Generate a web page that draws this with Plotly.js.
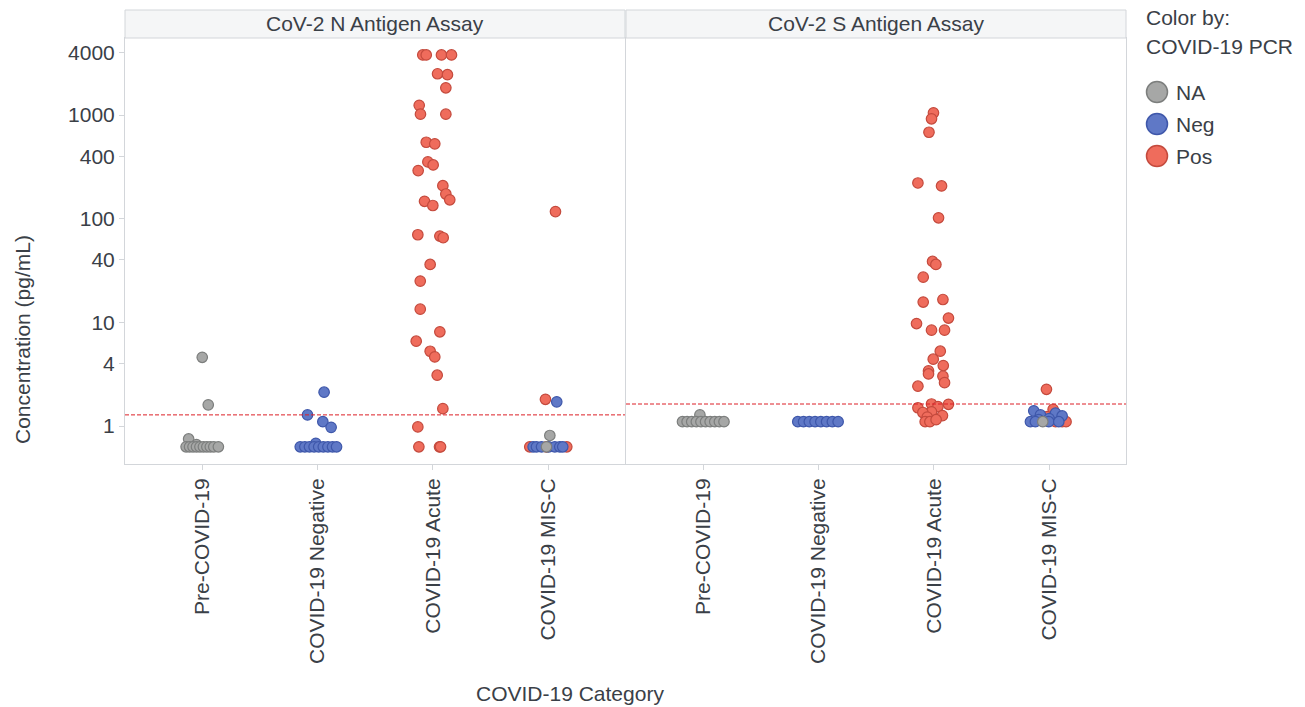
<!DOCTYPE html>
<html>
<head>
<meta charset="utf-8">
<script src="https://cdn.plot.ly/plotly-3.0.1.min.js"></script>
<style>html,body{margin:0;padding:0;background:#fff;}#chart{width:1305px;height:707px;}</style>
</head>
<body>
<div id="chart"></div>
<script>
// ---------- data ----------
const categories = ["Pre-COVID-19", "COVID-19 Negative", "COVID-19 Acute", "COVID-19 MIS-C"];
const assays = ["CoV-2 N Antigen Assay", "CoV-2 S Antigen Assay"];
const pcrGroups = ["NA", "Neg", "Pos"];
const thresholds = [1.28, 1.63];
const yTickVals = [1, 4, 10, 40, 100, 400, 1000, 4000];
const yTickText = ["1", "4", "10", "40", "100", "400", "1000", "4000"];

// N assay — NA
const nNA_cat = [0,0,0,0,0,0,0,0,0,0,0,0,0,0, 3,3];
const nNA_jit = [0.0,0.052,-0.118,-0.05,-0.14,-0.11,-0.08,-0.05,-0.02,0.01,0.04,0.07,0.10,0.14, 0.015,-0.014];
const nNA_val = [4.6,1.6,0.75,0.66,0.63,0.63,0.63,0.63,0.63,0.63,0.63,0.63,0.63,0.63, 0.81,0.63];
// N assay — Neg
const nNeg_cat = [1,1,1,1,1,1,1,1,1,1,1,1,1,1, 3,3,3,3,3,3,3,3];
const nNeg_jit = [0.057,-0.087,0.046,0.118,-0.015,-0.15,-0.11,-0.07,-0.03,0.01,0.05,0.09,0.13,0.165, 0.075,-0.13,-0.101,-0.057,0.006,0.058,0.101,0.127];
const nNeg_val = [2.12,1.28,1.10,0.97,0.68,0.63,0.63,0.63,0.63,0.63,0.63,0.63,0.63,0.63, 1.71,0.63,0.63,0.63,0.63,0.63,0.63,0.63];
// N assay — Pos
const nPos_cat = [2,2,2,2,2,2,2,2,2,2,2,2,2,2,2,2,2,2,2,2,2,2,2,2,2,2,2,2,2,2,2,2,2,2,2,2, 3,3,3,3,3];
const nPos_jit = [-0.087,-0.057,0.075,0.162,0.041,0.127,0.113,-0.118,-0.107,0.113,-0.057,0.017,-0.043,0.003,-0.127,0.087,0.113,0.147,-0.072,0.0,-0.130,0.061,0.090,-0.023,-0.109,-0.109,0.061,-0.144,-0.023,0.017,0.038,0.087,-0.130,-0.121,0.058,0.067, 0.064,-0.023,-0.159,-0.014,0.162];
const nPos_val = [3800,3800,3800,3800,2500,2450,1830,1240,1020,1020,546,527,353,330,291,208,173,152,147,134,70,68,65.5,36.2,25,13.4,8.1,6.58,5.26,4.64,3.09,1.47,0.98,0.63,0.63,0.63, 117,1.81,0.63,0.63,0.63];

// S assay — NA
const sNA_cat = [0,0,0,0,0,0,0,0,0,0,0, 3];
const sNA_jit = [-0.029,-0.18,-0.14,-0.10,-0.06,-0.02,0.02,0.06,0.10,0.14,0.18, -0.055];
const sNA_val = [1.28,1.10,1.10,1.10,1.10,1.10,1.10,1.10,1.10,1.10,1.10, 1.10];
// S assay — Neg
const sNeg_cat = [1,1,1,1,1,1,1,1, 3,3,3,3,3,3,3,3,3,3];
const sNeg_jit = [-0.18,-0.13,-0.08,-0.03,0.02,0.07,0.12,0.17, -0.133,0.056,0.113,-0.075,0.0,-0.09,-0.162,-0.119,-0.003,0.084];
const sNeg_val = [1.10,1.10,1.10,1.10,1.10,1.10,1.10,1.10, 1.40,1.33,1.25,1.28,1.18,1.15,1.10,1.10,1.10,1.10];
// S assay — Pos
const sPos_cat = [2,2,2,2,2,2,2,2,2,2,2,2,2,2,2,2,2,2,2,2,2,2,2,2,2,2,2,2,2,2,2,2,2,2, 3,3,3,3,3,3,3];
const sPos_jit = [-0.003,-0.020,-0.042,-0.138,0.067,0.041,-0.011,0.018,-0.092,0.079,-0.092,0.127,-0.150,-0.020,0.093,0.056,-0.005,0.082,-0.046,-0.046,0.079,0.093,-0.138,-0.020,0.127,0.036,-0.138,-0.020,-0.095,0.075,-0.057,-0.075,-0.034,0.020, -0.023,0.035,-0.017,0.09,0.056,0.113,0.147];
const sPos_val = [1050,919,682,221,207,102,38.7,36.2,27.3,16.6,15.7,11.0,9.73,8.41,8.41,5.27,4.41,3.83,3.40,3.18,3.02,2.62,2.42,1.63,1.62,1.54,1.50,1.37,1.35,1.26,1.22,1.10,1.10,1.15, 2.26,1.45,1.23,1.15,1.10,1.10,1.10];

// ---------- styles ----------
const FONT = "Liberation Sans, Arial, sans-serif";
const TXT = "#3a4047";
const FS = 21;
const colors = {
  NA:  {fill: "#a6a7a6", line: "#7c7e7d"},
  Neg: {fill: "#5f78c6", line: "#3e57aa"},
  Pos: {fill: "#ef6c5c", line: "#c44a3d"}
};

function mk(cat, jit, val, grp, xa, ya) {
  return {
    type: "scatter", mode: "markers",
    x: cat.map((c, i) => c + jit[i]), y: val,
    xaxis: xa, yaxis: ya, name: grp, showlegend: false, hoverinfo: "y+name",
    marker: {size: 10.5, color: colors[grp].fill, line: {color: colors[grp].line, width: 1.2}}
  };
}

const data = [
  mk(nPos_cat, nPos_jit, nPos_val, "Pos", "x", "y"),
  mk(nNeg_cat, nNeg_jit, nNeg_val, "Neg", "x", "y"),
  mk(nNA_cat, nNA_jit, nNA_val, "NA", "x", "y"),
  mk(sPos_cat, sPos_jit, sPos_val, "Pos", "x2", "y2"),
  mk(sNeg_cat, sNeg_jit, sNeg_val, "Neg", "x2", "y2"),
  mk(sNA_cat, sNA_jit, sNA_val, "NA", "x2", "y2")
];

const W = 1305, H = 707, L = 125, R = 179, T = 38, B = 243;
const PW = W - L - R, PH = H - T - B;
const px2x = p => (p - L) / PW;
const px2y = p => (H - B - p) / PH;

const xBase = {
  range: [-0.67, 3.667], tickvals: [0, 1, 2, 3], ticktext: categories, tickangle: -90,
  ticks: "outside", ticklen: 5, tickcolor: "#d3d6da", showline: true, mirror: true,
  linecolor: "#d3d6da", linewidth: 1, showgrid: false, zeroline: false,
  tickfont: {family: FONT, size: FS, color: TXT}, fixedrange: true
};
const yBase = {
  type: "log", range: [-0.3666, 3.743], tickvals: yTickVals, ticktext: yTickText,
  ticks: "outside", ticklen: 5, tickcolor: "#d3d6da", showline: true, mirror: true,
  linecolor: "#d3d6da", linewidth: 1, showgrid: false, zeroline: false,
  tickfont: {family: FONT, size: FS, color: TXT}, fixedrange: true
};

const split = 0.4995, split2 = 0.5005;
const headTop = px2y(10);
const shapes = [
  {type: "rect", xref: "paper", yref: "paper", x0: 0, x1: split, y0: 1, y1: headTop, fillcolor: "#f5f6f7", line: {color: "#d3d6da", width: 1}},
  {type: "rect", xref: "paper", yref: "paper", x0: split2, x1: 1, y0: 1, y1: headTop, fillcolor: "#f5f6f7", line: {color: "#d3d6da", width: 1}},
  {type: "line", xref: "x domain", x0: 0, x1: 1, yref: "y", y0: thresholds[0], y1: thresholds[0], line: {color: "#dc1f26", width: 1, dash: "4px,2px"}},
  {type: "line", xref: "x2 domain", x0: 0, x1: 1, yref: "y2", y0: thresholds[1], y1: thresholds[1], line: {color: "#dc1f26", width: 1, dash: "4px,2px"}}
];
const annotations = [
  {text: assays[0], xref: "paper", yref: "paper", x: split / 2, y: px2y(23), showarrow: false, xanchor: "center", yanchor: "middle", font: {family: FONT, size: FS, color: TXT}},
  {text: assays[1], xref: "paper", yref: "paper", x: (split2 + 1) / 2, y: px2y(23), showarrow: false, xanchor: "center", yanchor: "middle", font: {family: FONT, size: FS, color: TXT}},
  {text: "Concentration (pg/mL)", xref: "paper", yref: "paper", x: px2x(22), y: px2y(340), textangle: -90, showarrow: false, xanchor: "center", yanchor: "middle", font: {family: FONT, size: FS, color: TXT}},
  {text: "COVID-19 Category", xref: "paper", yref: "paper", x: px2x(570), y: px2y(693), showarrow: false, xanchor: "center", yanchor: "middle", font: {family: FONT, size: FS, color: TXT}},
  {text: "Color by:", xref: "paper", yref: "paper", x: px2x(1144), y: px2y(18), showarrow: false, xanchor: "left", yanchor: "middle", font: {family: FONT, size: FS, color: TXT}},
  {text: "COVID-19 PCR", xref: "paper", yref: "paper", x: px2x(1144), y: px2y(47), showarrow: false, xanchor: "left", yanchor: "middle", font: {family: FONT, size: FS, color: TXT}}
];
// legend entries (manual, to match large swatches)
const legendY = [92, 124, 156];
pcrGroups.forEach((g, i) => {
  shapes.push({type: "circle", xref: "paper", yref: "paper", xsizemode: "pixel", ysizemode: "pixel",
    xanchor: px2x(1157), yanchor: px2y(legendY[i]), x0: -10.5, x1: 10.5, y0: -10.5, y1: 10.5,
    fillcolor: colors[g].fill, line: {color: colors[g].line, width: 1.5}});
  annotations.push({text: g, xref: "paper", yref: "paper", x: px2x(1174), y: px2y(legendY[i]), showarrow: false,
    xanchor: "left", yanchor: "middle", font: {family: FONT, size: FS, color: TXT}});
});

const layout = {
  width: W, height: H, margin: {l: L, r: R, t: T, b: B, pad: 0},
  paper_bgcolor: "#fff", plot_bgcolor: "#fff", showlegend: false,
  font: {family: FONT, color: TXT},
  xaxis: Object.assign({}, xBase, {domain: [0, split], anchor: "y"}),
  xaxis2: Object.assign({}, xBase, {domain: [split2, 1], anchor: "y2"}),
  yaxis: Object.assign({}, yBase, {domain: [0, 1], anchor: "x"}),
  yaxis2: Object.assign({}, yBase, {domain: [0, 1], anchor: "x2", showticklabels: false, ticks: "", matches: "y"}),
  shapes: shapes, annotations: annotations
};

Plotly.newPlot("chart", data, layout, {displayModeBar: false, staticPlot: true});
</script>
</body>
</html>
